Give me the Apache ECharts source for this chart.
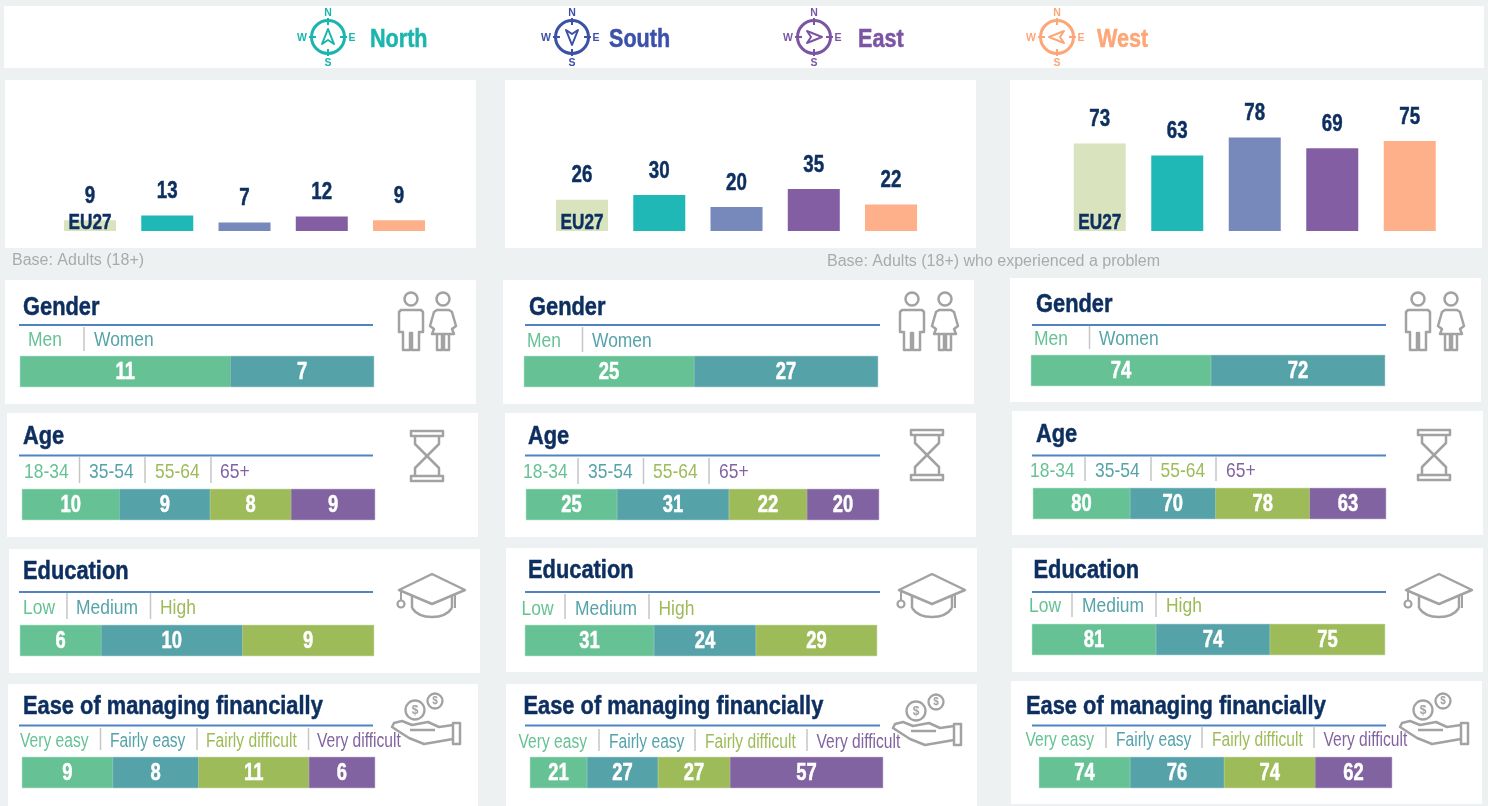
<!DOCTYPE html>
<html>
<head>
<meta charset="utf-8">
<style>
  html, body { margin: 0; padding: 0; background: #edf1f2; }
  #main { width: 1488px; height: 806px; }
</style>
<script src="https://cdn.jsdelivr.net/npm/echarts@6/dist/echarts.min.js"></script>
</head>
<body>
<div id="main"></div>
<script>
// top bar categories and values
const regions = ['EU27', 'North', 'South', 'East', 'West'];
const topAdults = [9, 13, 7, 12, 9];
const topAdultsProblem = [26, 30, 20, 35, 22];
const topProblemShare = [73, 63, 78, 69, 75];

// block titles and segment names
const blockTitles = ['Gender', 'Age', 'Education', 'Ease of managing financially'];
const genderLabels = ['Men', 'Women'];
const ageLabels = ['18-34', '35-54', '55-64', '65+'];
const eduLabels = ['Low', 'Medium', 'High'];
const easeLabels = ['Very easy', 'Fairly easy', 'Fairly difficult', 'Very difficult'];

// segment values, printed rounded. Decimals
const gender1 = [10.7, 7.3];
const age1 = [10.1, 9.4, 8.4, 8.7];
const edu1 = [5.8, 10.1, 9.4];
const ease1 = [8.8, 8.3, 10.7, 6.4];

const gender2 = [25, 27];
const age2 = [25.3, 31.1, 21.7, 20];
const edu2 = [30.9, 24.4, 29];
const ease2 = [21.3, 26.5, 26.9, 57.1];

const gender3 = [74, 71.6];
const age3 = [80, 70.4, 77.6, 62.8];
const edu3 = [81, 74.4, 75.2];
const ease3 = [74, 76.4, 74, 62.4];

// no narrow face installed, so Liberation Sans is squeezed horizontally
const FONT = '"Liberation Sans",sans-serif';
const NAVY = '#0d2f5f';
const GREY = '#a2a2a2';
const topColors = ['#d9e4bf', '#20b8b6', '#7788bb', '#845ea3', '#fdb08a'];
const segColors = ['#66c295', '#55a3a9', '#9dbb59', '#8263a1'];

const legendItems = [
  { name: 'North', cx: 328, tx: 370, color: '#1ab5ad', dir: 0 },
  { name: 'South', cx: 572, tx: 609, color: '#3b50a8', dir: 180 },
  { name: 'East', cx: 814, tx: 858, color: '#7b55a3', dir: 90 },
  { name: 'West', cx: 1057, tx: 1097, color: '#fda678', dir: -90 }
];

// card geometry, column by column
const cardLayout = [
  [
    { box: [5, 280, 471, 124], tx: 23, ty: 306, rule: [19, 373, 325], ly: 339, lx: [28, 94], sep: [84], sepY: [327, 351], bar: [20, 374, 356], icon: [411, 443] },
    { box: [7, 413, 471, 124], tx: 23, ty: 435, rule: [19, 373, 455.5], ly: 471, lx: [24, 89, 155, 220], sep: [79.5, 145, 211], sepY: [457, 483], bar: [22, 375, 489], icon: [427, 456] },
    { box: [9, 549, 471, 124], tx: 23, ty: 570, rule: [19, 373, 592], ly: 607, lx: [23, 76, 160], sep: [67, 150.5], sepY: [593, 619], bar: [20, 374, 625], icon: [432, 574] },
    { box: [8, 684, 470, 122], tx: 23, ty: 705, rule: [19, 373, 725.5], ly: 740, lx: [20, 110, 206, 317], sep: [100.5, 197, 308.5], sepY: [728, 750], bar: [22, 375, 757], icon: [392, 692] }
  ],
  [
    { box: [503, 280, 471, 124], tx: 529, ty: 306, rule: [525, 880, 325], ly: 340, lx: [527, 592], sep: [582.5], sepY: [327, 352], bar: [524, 878, 356], icon: [912, 945] },
    { box: [505, 413, 471, 124], tx: 528, ty: 435, rule: [525, 880, 455.5], ly: 471, lx: [523, 588, 653, 719], sep: [578, 643.5, 709], sepY: [458, 484], bar: [526, 879, 489], icon: [927, 455] },
    { box: [506, 548, 471, 124], tx: 528, ty: 569, rule: [525, 880, 592], ly: 608, lx: [521.5, 575, 658.5], sep: [565, 649], sepY: [594, 619], bar: [525, 877, 625], icon: [932, 574] },
    { box: [506, 684, 471, 122], tx: 523.5, ty: 705, rule: [525, 880, 725.5], ly: 741, lx: [518.5, 609, 705, 816.5], sep: [599, 695, 807], sepY: [729, 751], bar: [530, 883, 757], icon: [893, 693] }
  ],
  [
    { box: [1010, 278, 471, 124], tx: 1036, ty: 303, rule: [1032, 1386, 325], ly: 338, lx: [1034, 1099], sep: [1089.5], sepY: [326, 349], bar: [1031, 1385, 355], icon: [1418, 1451] },
    { box: [1012, 411, 471, 124], tx: 1036, ty: 433, rule: [1032, 1386, 455.5], ly: 470, lx: [1030, 1095, 1160.5, 1226], sep: [1085, 1151, 1216], sepY: [457, 481], bar: [1033, 1386, 488], icon: [1434, 455] },
    { box: [1012, 548, 471, 124], tx: 1033.5, ty: 569, rule: [1032, 1386, 592], ly: 605, lx: [1029, 1082, 1166], sep: [1072, 1156], sepY: [593, 617], bar: [1032, 1385, 624], icon: [1439, 574] },
    { box: [1011, 681, 471, 123], tx: 1026, ty: 705, rule: [1032, 1386, 725.5], ly: 739, lx: [1025.5, 1116, 1212, 1323.5], sep: [1106, 1202, 1314], sepY: [726, 748], bar: [1039, 1392, 757], icon: [1400, 692] }
  ]
];

const blockLabels = [genderLabels, ageLabels, eduLabels, easeLabels];
const blockValues = [
  [gender1, age1, edu1, ease1],
  [gender2, age2, edu2, ease2],
  [gender3, age3, edu3, ease3]
];

const grids = [], xAxes = [], yAxes = [], seriesList = [], gfx = [];

function rect(x, y, w, h, fill) {
  return { type: 'rect', shape: { x: x, y: y, width: w, height: h }, style: { fill: fill } };
}
function label(text, x, y, size, color, opts) {
  opts = opts || {};
  const bold = opts.weight === 'bold';
  return {
    type: 'text',
    x: x,
    y: y + size * 0.06,
    scaleX: opts.squeeze || 1,
    style: {
      text: text, x: 0, y: 0, fill: color, fontSize: size,
      stroke: bold && size > 20 ? color : null, lineWidth: bold && size > 20 ? 0.5 : 0,
      fontFamily: FONT, fontWeight: opts.weight || 'normal',
      align: opts.align || 'left', verticalAlign: 'middle'
    }
  };
}
function line(points, color, width, closed) {
  return {
    type: closed ? 'polygon' : 'polyline',
    shape: { points: points },
    style: { stroke: color, lineWidth: width, fill: closed ? 'none' : null, lineJoin: 'round' }
  };
}
function ring(x, y, r, color, width) {
  return { type: 'circle', shape: { cx: x, cy: y, r: r }, style: { stroke: color, lineWidth: width, fill: 'none' } };
}
function offset(points, x, y) {
  return points.map(function (p) { return [p[0] + x, p[1] + y]; });
}
// value labels go through a custom series so they follow the axes and can be squeezed
function valueLabels(idx, rows, color, size, squeeze, lift) {
  return {
    type: 'custom', name: 'Values', coordinateSystem: 'cartesian2d',
    xAxisIndex: idx, yAxisIndex: idx, z: 5, clip: false, silent: true,
    encode: { x: 0, y: 1 },
    data: rows,
    renderItem: function (params, api) {
      const pt = api.coord([api.value(0), api.value(1)]);
      return {
        type: 'text', x: pt[0], y: pt[1] - lift + 1, scaleX: squeeze,
        style: {
          text: String(api.value(2)), x: 0, y: 0, fill: color, fontSize: size,
          stroke: color, lineWidth: 0.5,
          fontFamily: FONT, fontWeight: 'bold', align: 'center', verticalAlign: 'middle'
        }
      };
    }
  };
}

// ---- header with compass icons ----
gfx.push(rect(4, 6, 1480, 62, '#fff'));
legendItems.forEach(function (it) {
  const cy = 37;
  gfx.push(ring(it.cx, cy, 16.5, it.color, 3));
  [[0, -1], [0, 1], [1, 0], [-1, 0]].forEach(function (d) {
    gfx.push(line([[it.cx + d[0] * 12, cy + d[1] * 12], [it.cx + d[0] * 19, cy + d[1] * 19]], it.color, 2));
  });
  const a = it.dir * Math.PI / 180;
  const arrow = [[0, -8], [6, 7], [0, 3], [-6, 7]].map(function (p) {
    return [it.cx + p[0] * Math.cos(a) - p[1] * Math.sin(a), cy + p[0] * Math.sin(a) + p[1] * Math.cos(a)];
  });
  gfx.push(line(arrow, it.color, 2, true));
  const letters = [['N', 0, -25], ['S', 0, 25], ['W', -26, 0], ['E', 24, 0]];
  letters.forEach(function (l) {
    gfx.push(label(l[0], it.cx + l[1], cy + l[2], 10.5, it.color, { weight: 'bold', align: 'center' }));
  });
  gfx.push(label(it.name, it.tx, 38, 26, it.color, { weight: 'bold', squeeze: 0.83 }));
});

// ---- top bars ----
const topPanels = [
  { box: [5, 80, 471, 168], left: 51.4, width: 386.25, values: topAdults },
  { box: [505, 80, 471, 168], left: 543.4, width: 386.25, values: topAdultsProblem },
  { box: [1010, 80, 472, 168], left: 1061, width: 387.5, values: topProblemShare }
];
topPanels.forEach(function (p) {
  gfx.push(rect(p.box[0], p.box[1], p.box[2], p.box[3], '#fff'));
  const idx = grids.length;
  grids.push({ left: p.left, top: 111, width: p.width, height: 120 });
  xAxes.push({
    gridIndex: idx, type: 'category', data: regions,
    axisLine: { show: false }, axisTick: { show: false }, axisLabel: { show: false }
  });
  yAxes.push({ gridIndex: idx, type: 'value', min: 0, max: 100, show: false });
  seriesList.push({
    type: 'bar', name: 'Share', xAxisIndex: idx, yAxisIndex: idx, barWidth: 52,
    data: p.values.map(function (v, i) { return { value: v, itemStyle: { color: topColors[i] } }; })
  });
  seriesList.push(valueLabels(idx, p.values.map(function (v, i) { return [i, v, v]; }), NAVY, 24, 0.78, 25));
  // EU27 tag sits on the first bar, near the baseline
  seriesList.push(valueLabels(idx, [[0, 0, regions[0]]], NAVY, 22, 0.78, 9));
});
gfx.push(label('Base: Adults (18+)', 12, 260, 16, '#a9abad'));
gfx.push(label('Base: Adults (18+) who experienced a problem', 827, 261, 16, '#a9abad'));

// ---- icons ----
function drawPeople(manX, womanX) {
  const y = 299;
  gfx.push(ring(manX, y, 6.5, GREY, 2.5));
  gfx.push(line(offset([[-10, 11], [10, 11], [12, 13], [12, 33], [8, 33], [8, 51], [1, 51], [1, 34], [-1, 34], [-1, 51], [-8, 51], [-8, 33], [-12, 33], [-12, 13]], manX, y), GREY, 2.5, true));
  gfx.push(ring(womanX, y, 6.5, GREY, 2.5));
  gfx.push(line(offset([[-6, 11], [6, 11], [9, 13], [13, 27], [9, 30], [11, 35], [-11, 35], [-9, 30], [-13, 27], [-9, 13]], womanX, y), GREY, 2.5, true));
  gfx.push(line(offset([[-6, 35], [-6, 51], [-1, 51], [-1, 35]], womanX, y), GREY, 2.5));
  gfx.push(line(offset([[1, 35], [1, 51], [6, 51], [6, 35]], womanX, y), GREY, 2.5));
}
function drawGlass(cx, cy) {
  gfx.push(line(offset([[-16, -25], [16, -25], [16, -20], [-16, -20]], cx, cy), GREY, 2.5, true));
  gfx.push(line(offset([[-16, 20], [16, 20], [16, 25], [-16, 25]], cx, cy), GREY, 2.5, true));
  gfx.push(line(offset([[-12, -20], [-12, -12], [12, 12], [12, 20]], cx, cy), GREY, 2.5));
  gfx.push(line(offset([[12, -20], [12, -12], [-12, 12], [-12, 20]], cx, cy), GREY, 2.5));
}
function drawCap(cx, top) {
  gfx.push(line(offset([[0, 0], [33, 16], [0, 30], [-33, 16]], cx, top), GREY, 2.5, true));
  gfx.push(line(offset([[-20, 22], [-20, 34]], cx, top), GREY, 2.5));
  gfx.push(line(offset([[20, 22], [20, 34]], cx, top), GREY, 2.5));
  gfx.push({
    type: 'bezierCurve',
    shape: { x1: cx - 20, y1: top + 34, cpx1: cx - 12, cpy1: top + 46, cpx2: cx + 12, cpy2: top + 46, x2: cx + 20, y2: top + 34 },
    style: { stroke: GREY, lineWidth: 2.5, fill: 'none' }
  });
  gfx.push(line(offset([[-31, 17], [-31, 27]], cx, top), GREY, 2));
  gfx.push(ring(cx - 31, top + 30, 3.5, GREY, 2.2));
  gfx.push(line(offset([[23, 21], [23, 34]], cx, top), GREY, 2));
}
function drawHand(x, y) {
  gfx.push(ring(x + 23, y + 18, 9.5, GREY, 2.3));
  gfx.push(ring(x + 43, y + 9, 7.5, GREY, 2.3));
  gfx.push(label('$', x + 23, y + 18, 12, GREY, { weight: 'bold', align: 'center' }));
  gfx.push(label('$', x + 43, y + 9, 10, GREY, { weight: 'bold', align: 'center' }));
  gfx.push(line(offset([[61, 33], [47, 35], [36, 30], [20, 33], [10, 29], [2, 31], [0, 35], [17, 46], [32, 52], [61, 47]], x, y), GREY, 2.5));
  gfx.push(line(offset([[18, 38], [43, 38]], x, y), GREY, 2.5));
  gfx.push(line(offset([[61, 31], [68, 31], [68, 52], [61, 52]], x, y), GREY, 2.5, true));
}
const iconDrawers = [drawPeople, drawGlass, drawCap, drawHand];

// ---- breakdown cards ----
cardLayout.forEach(function (col, c) {
  col.forEach(function (card, r) {
    gfx.push(rect(card.box[0], card.box[1], card.box[2], card.box[3], '#fff'));
    iconDrawers[r](card.icon[0], card.icon[1]);
    gfx.push(label(blockTitles[r], card.tx, card.ty, 26, NAVY, { weight: 'bold', squeeze: 0.84 }));
    gfx.push(line([[card.rule[0], card.rule[2]], [card.rule[1], card.rule[2]]], '#5083c1', 2));
    card.sep.forEach(function (x) {
      gfx.push(line([[x, card.sepY[0]], [x, card.sepY[1]]], '#c6c6c6', 1.5));
    });
    blockLabels[r].forEach(function (name, i) {
      gfx.push(label(name, card.lx[i], card.ly, r === 3 ? 20 : 21, segColors[i], { squeeze: r === 3 ? 0.78 : 0.83 }));
    });

    const values = blockValues[c][r];
    const idx = grids.length;
    const total = values.reduce(function (a, b) { return a + b; }, 0);
    grids.push({ left: card.bar[0], top: card.bar[2], width: card.bar[1] - card.bar[0], height: 31 });
    xAxes.push({ gridIndex: idx, type: 'value', min: 0, max: total, show: false });
    yAxes.push({ gridIndex: idx, type: 'category', data: [blockTitles[r]], show: false });
    let run = 0;
    const rows = values.map(function (v) {
      const row = [run + v / 2, 0, Math.round(v)];
      run += v;
      return row;
    });
    values.forEach(function (v, i) {
      seriesList.push({
        type: 'bar', name: blockLabels[r][i], stack: 'stack' + idx,
        xAxisIndex: idx, yAxisIndex: idx, barWidth: '100%',
        // thin same-colour border hides the seam between segments
        itemStyle: { color: segColors[i], borderColor: segColors[i], borderWidth: 0.5 },
        data: [v]
      });
    });
    seriesList.push(valueLabels(idx, rows, '#fff', 23, 0.8, 0));
  });
});

const myChart = echarts.init(document.getElementById('main'));
myChart.setOption({
  backgroundColor: '#edf1f2',
  animation: false,
  tooltip: { show: false },
  grid: grids,
  xAxis: xAxes,
  yAxis: yAxes,
  series: seriesList,
  graphic: { elements: gfx }
});
window.addEventListener('resize', function () { myChart.resize(); });
</script>
</body>
</html>
